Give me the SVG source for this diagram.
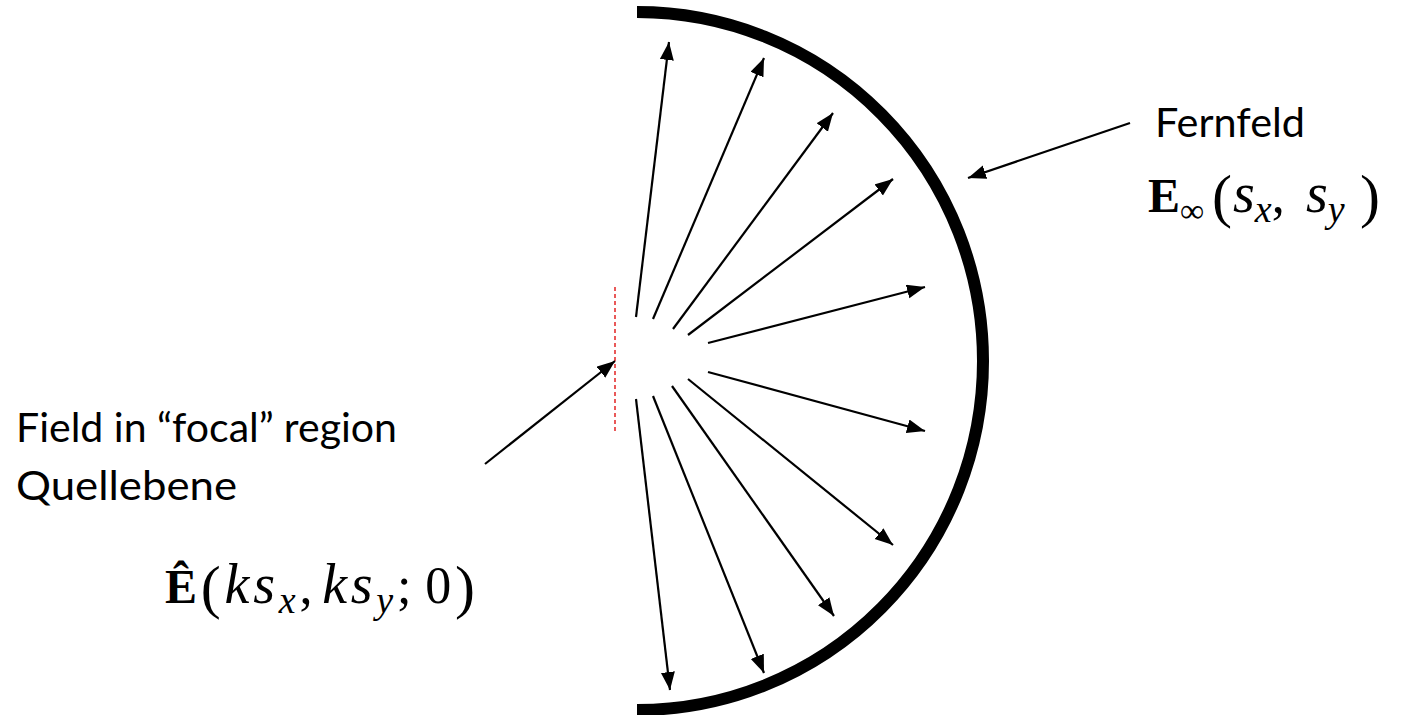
<svg xmlns="http://www.w3.org/2000/svg" width="1410" height="715" viewBox="0 0 1410 715">
<style>
.ray{stroke:#000;stroke-width:2.2;fill:none;marker-end:url(#ah)}
.lbl{font-family:Lato,"Liberation Sans",sans-serif;font-size:40px;fill:#000}
.m{font-family:"Liberation Serif","DejaVu Serif",serif;font-size:52px;fill:#000}
.it{font-style:italic;font-size:56px}
.b{font-weight:bold}
.sub{font-size:38px;font-style:italic}
.par{font-size:60px}
</style>
<defs>
<marker id="ah" markerUnits="userSpaceOnUse" markerWidth="19" markerHeight="15" refX="18" refY="7" orient="auto">
<path d="M0,0 L18,7 L0,14 z" fill="#000"/>
</marker>
</defs>
<rect width="1410" height="715" fill="#fff"/>
<g id="farfield-arc">
<path d="M637 12 A346 349 0 0 1 637 710" fill="none" stroke="#000" stroke-width="12"/>
</g>
<g id="focal-plane">
<line x1="615" y1="287" x2="615" y2="431" stroke="#dd0000" stroke-width="1.3" stroke-dasharray="4 3"/>
</g>
<g id="connectors">
<line class="ray" x1="636" y1="317" x2="669" y2="42"/>
<line class="ray" x1="653" y1="319" x2="764" y2="58"/>
<line class="ray" x1="673" y1="329" x2="833" y2="113"/>
<line class="ray" x1="688" y1="335" x2="893" y2="179"/>
<line class="ray" x1="708" y1="343" x2="925" y2="287"/>
<line class="ray" x1="708" y1="372" x2="925" y2="431"/>
<line class="ray" x1="688" y1="379" x2="893" y2="545"/>
<line class="ray" x1="672" y1="386" x2="834" y2="616"/>
<line class="ray" x1="653" y1="396" x2="764" y2="673"/>
<line class="ray" x1="636" y1="399" x2="670" y2="690"/>
<line class="ray" x1="485" y1="464" x2="615" y2="361"/>
<line class="ray" x1="1130" y1="123" x2="968" y2="178"/>
</g>
<g id="label-fernfeld">
<text class="lbl" x="1155" y="137" textLength="150" lengthAdjust="spacingAndGlyphs">Fernfeld</text>
<text class="m" y="212"><tspan x="1148" class="b" font-size="48">E</tspan><tspan dy="10" font-size="34">∞</tspan><tspan x="1212" dy="-6" class="par">(</tspan><tspan x="1233" dy="-4" class="it">s</tspan><tspan dy="10" class="sub">x</tspan><tspan dy="-10">,</tspan><tspan x="1306" class="it">s</tspan><tspan dy="10" class="sub">y</tspan><tspan x="1360" dy="-6" class="par">)</tspan></text>
</g>
<g id="label-focal">
<text class="lbl" x="16" y="442" textLength="381" lengthAdjust="spacingAndGlyphs">Field in “focal” region</text>
<text class="lbl" x="16" y="500" textLength="221" lengthAdjust="spacingAndGlyphs">Quellebene</text>
<text class="m" x="165" y="603" textLength="310" lengthAdjust="spacing"><tspan class="b" font-size="48">Ê</tspan><tspan dy="4" class="par">(</tspan><tspan dy="-4" class="it">ks</tspan><tspan dy="10" class="sub">x</tspan><tspan dy="-10">,</tspan><tspan dx="6" class="it">ks</tspan><tspan dy="10" class="sub">y</tspan><tspan dy="-10">;</tspan><tspan dx="10">0</tspan><tspan dy="4" class="par">)</tspan></text>
</g>
</svg>
